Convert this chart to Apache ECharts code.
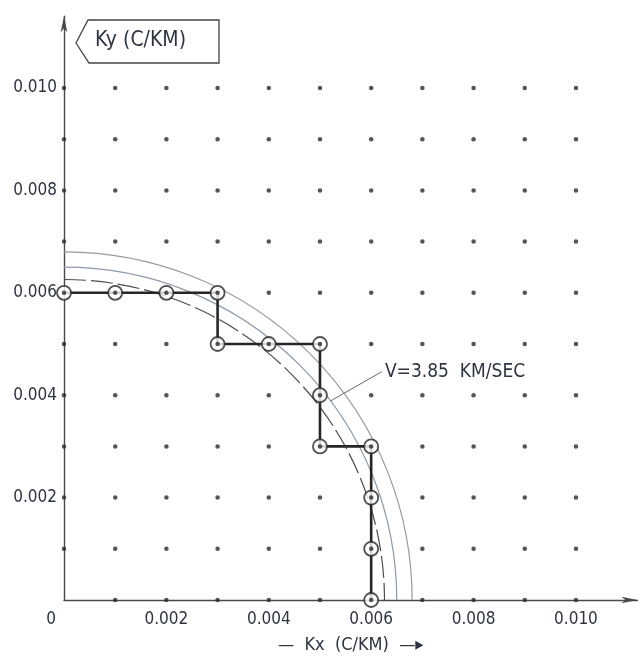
<!DOCTYPE html>
<html>
<head>
<meta charset="utf-8">
<script src="https://cdn.jsdelivr.net/npm/echarts@6/dist/echarts.min.js"></script>
<style>
  html, body { margin: 0; padding: 0; background: #fff; }
  #chart { width: 644px; height: 657px; }
</style>
</head>
<body>
<div id="chart"></div>
<script>
// Lattice of wavenumber sample points (C/KM)
const latticeX = [0, 0.001, 0.002, 0.003, 0.004, 0.005, 0.006, 0.007, 0.008, 0.009, 0.010];
const latticeY = [0, 0.001, 0.002, 0.003, 0.004, 0.005, 0.006, 0.007, 0.008, 0.009, 0.010];

// Selected (circled) points along the staircase boundary
const pickedKx = [0, 0.001, 0.002, 0.003, 0.003, 0.004, 0.005, 0.005, 0.005, 0.006, 0.006, 0.006, 0.006];
const pickedKy = [0.006, 0.006, 0.006, 0.006, 0.005, 0.005, 0.005, 0.004, 0.003, 0.003, 0.002, 0.001, 0];

// Staircase outline corners
const stairKx = [0, 0.003, 0.003, 0.005, 0.005, 0.006, 0.006];
const stairKy = [0.006, 0.006, 0.005, 0.005, 0.003, 0.003, 0];

// Constant-velocity arcs (radius in C/KM)
const arcRadii = [0.00626, 0.0065, 0.0068];
const arcLabel = 'V=3.85  KM/SEC';
const labelledArc = 1;
const leaderEnd = [0.00621, 0.00446];

const textColor = '#2e3440';
const inkColor = '#262626';
const fontFam = "'Liberation Sans Narrow', 'DejaVu Sans Condensed', 'Liberation Sans'";

const latticePts = [];
latticeX.forEach(function (x) {
  latticeY.forEach(function (y) {
    if (x !== 0 || y !== 0) latticePts.push([x, y]);
  });
});
const pickedPts = pickedKx.map(function (x, i) { return [x, pickedKy[i]]; });
const stairPts = stairKx.map(function (x, i) { return [x, stairKy[i]]; });

// Leader starts on the labelled arc, in the direction of the label
const rL = arcRadii[labelledArc];
const ang = Math.atan2(3.89, 5.21);
const leaderPts = [[rL * Math.cos(ang), rL * Math.sin(ang)], leaderEnd];

const chart = echarts.init(document.getElementById('chart'));

chart.setOption({
  animation: false,
  backgroundColor: '#fff',
  grid: {
    left: 64, bottom: 57, width: 573.4, height: 583.7,
    containLabel: false,
    outerBoundsMode: 'none'
  },
  xAxis: {
    type: 'value',
    min: 0,
    max: 0.0112,
    interval: 0.002,
    splitLine: { show: false },
    axisTick: { show: false },
    axisLine: {
      show: true,
      onZero: false,
      symbol: ['none', 'arrow'],
      symbolSize: [5, 16],
      lineStyle: { color: '#4a4a4a', width: 1.4 }
    },
    axisLabel: {
      showMaxLabel: false,
      margin: 11,
      color: textColor,
      fontFamily: fontFam,
      fontSize: 17,
      formatter: function (v) {
        if (Math.abs(v) < 1e-9) return '{z|0}';
        return v.toFixed(3);
      },
      rich: { z: { fontSize: 17, color: textColor, fontFamily: fontFam, padding: [0, 26, 8, 0] } }
    },
    name: '—  Kx  (C/KM)  —▸',
    nameLocation: 'middle',
    nameGap: 36,
    nameTextStyle: { color: textColor, fontFamily: fontFam, fontSize: 18 }
  },
  yAxis: {
    type: 'value',
    min: 0,
    max: 0.0114,
    interval: 0.002,
    splitLine: { show: false },
    axisTick: { show: false },
    axisLine: {
      show: true,
      onZero: false,
      symbol: ['none', 'arrow'],
      symbolSize: [5, 16],
      lineStyle: { color: '#4a4a4a', width: 1.4 }
    },
    axisLabel: {
      showMaxLabel: false,
      margin: 7,
      color: textColor,
      fontFamily: fontFam,
      fontSize: 17,
      formatter: function (v) {
        if (Math.abs(v) < 1e-9) return '';
        return v.toFixed(3);
      }
    }
  },
  graphic: [
    {
      type: 'polygon',
      shape: { points: [[76, 43], [88, 20], [219, 20], [219, 63], [89, 63]] },
      style: { fill: '#fff', stroke: '#444', lineWidth: 1.3 },
      z: 10
    },
    {
      type: 'text',
      left: 95,
      top: 30,
      style: { text: 'Ky (C/KM)', fill: textColor, font: '21px ' + fontFam },
      z: 11
    }
  ],
  series: [
    {
      type: 'custom',
      coordinateSystem: 'cartesian2d',
      data: arcRadii.map(function (r, i) { return [r, 0, i]; }),
      encode: { x: 0, y: 1 },
      silent: true,
      z: 1,
      renderItem: function (params, api) {
        const c = api.coord([0, 0]);
        const p = api.coord([api.value(0), 0]);
        const idx = api.value(2);
        const strokes = ['#4d4d4d', '#8d99a6', '#9a9a9a'];
        return {
          type: 'arc',
          shape: { cx: c[0], cy: c[1], r: p[0] - c[0], startAngle: -Math.PI / 2, endAngle: 0, clockwise: true },
          style: {
            stroke: strokes[idx],
            fill: null,
            lineWidth: 1.2,
            lineDash: idx === 0 ? [22, 5] : null
          }
        };
      }
    },
    {
      type: 'line',
      data: leaderPts,
      symbol: 'none',
      silent: true,
      z: 2,
      lineStyle: { color: '#666', width: 1 },
      endLabel: {
        show: true,
        formatter: arcLabel,
        color: textColor,
        fontFamily: fontFam,
        fontSize: 19,
        distance: 3
      }
    },
    {
      type: 'line',
      data: stairPts,
      symbol: 'none',
      silent: true,
      z: 3,
      lineStyle: { color: inkColor, width: 2.6 }
    },
    {
      type: 'scatter',
      data: pickedPts,
      symbol: 'circle',
      symbolSize: 14,
      silent: true,
      z: 4,
      itemStyle: { color: '#fff', borderColor: inkColor, borderWidth: 1.8 }
    },
    {
      type: 'scatter',
      data: latticePts,
      symbol: 'circle',
      symbolSize: 4.5,
      silent: true,
      z: 5,
      itemStyle: { color: '#2a2a2a' }
    }
  ]
});
</script>
</body>
</html>
